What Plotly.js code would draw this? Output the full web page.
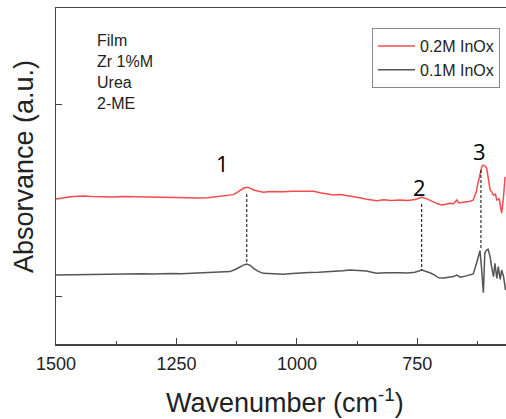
<!DOCTYPE html>
<html>
<head>
<meta charset="utf-8">
<script src="https://cdn.plot.ly/plotly-3.0.1.min.js"></script>
<style>html,body{margin:0;padding:0;background:#fff;}#chart{width:506px;height:419px;}</style>
</head>
<body>
<div id="chart"></div>
<script>
// Wavenumbers (cm^-1) and absorbance (a.u., offset)
const redX = [1500,1485,1470,1455,1443,1425,1400,1380,1360,1340,1320,1300,1280,1260,1240,1220,1201,1185,1166,1150,1132,1125,1118,1111,1104,1097,1090,1080,1070,1055,1040,1028,1010,995,980,965,952,938,924,910,895,883,870,855,845,834,820,805,786,770,755,741,730,717,708,699,690,682,675,670,668,664,661,650,640,634,628,624,620,616,613,609,606,602,599,595,592,588,585,580,575,571,568];
const redY = [0.505,0.512,0.517,0.520,0.521,0.518,0.515,0.516,0.518,0.517,0.514,0.513,0.511,0.513,0.509,0.508,0.510,0.512,0.517,0.520,0.528,0.538,0.552,0.561,0.566,0.562,0.552,0.544,0.540,0.544,0.542,0.543,0.546,0.545,0.547,0.545,0.538,0.532,0.526,0.528,0.522,0.521,0.512,0.504,0.499,0.496,0.501,0.497,0.500,0.498,0.503,0.514,0.506,0.491,0.480,0.474,0.478,0.483,0.481,0.492,0.500,0.485,0.486,0.489,0.494,0.500,0.540,0.590,0.641,0.675,0.682,0.676,0.665,0.610,0.552,0.540,0.526,0.530,0.500,0.505,0.432,0.520,0.620];

const grayX = [1500,1480,1460,1440,1420,1400,1380,1360,1340,1320,1300,1280,1260,1240,1220,1201,1180,1160,1139,1128,1118,1111,1104,1097,1090,1080,1070,1050,1028,1010,994,975,955,940,924,905,890,870,855,845,834,815,800,786,770,755,741,732,724,715,706,695,682,675,668,661,654,645,634,627,623,620,617,613,610,606,603,599,596,592,589,585,582,578,575,571,567];
const grayY = [0.109,0.110,0.112,0.111,0.113,0.115,0.114,0.114,0.115,0.116,0.115,0.117,0.117,0.116,0.118,0.118,0.119,0.121,0.127,0.138,0.153,0.161,0.167,0.160,0.144,0.128,0.118,0.114,0.113,0.117,0.121,0.122,0.124,0.126,0.127,0.132,0.136,0.133,0.130,0.124,0.118,0.121,0.119,0.121,0.120,0.124,0.135,0.128,0.121,0.110,0.095,0.094,0.097,0.102,0.109,0.098,0.101,0.108,0.115,0.172,0.210,0.236,0.153,0.017,0.224,0.240,0.243,0.205,0.153,0.101,0.170,0.092,0.153,0.087,0.135,0.101,0.031];

const seriesNames = ['0.2M InOx', '0.1M InOx'];
const sampleInfo = ['Film', 'Zr 1%M', 'Urea', '2-ME'];

// Peak markers: position, top and bottom of dashed guide, label position
const peakLabels = ['1', '2', '3'];
const peakX = [1104, 741, 618];
const peakTop = [0.531, 0.479, 0.656];
const peakBottom = [0.172, 0.135, 0.250];
const labelX = [1155, 745, 620];
const labelY = [0.693, 0.568, 0.755];

const xTicks = [1500, 1250, 1000, 750];
const xMinorTicks = [1375, 1125, 875, 625];

const FONT = 'Liberation Sans, Arial, sans-serif';

const traces = [
  {x: redX, y: redY, type: 'scatter', mode: 'lines', name: seriesNames[0],
   line: {color: '#f44b4b', width: 1.5}},
  {x: grayX, y: grayY, type: 'scatter', mode: 'lines', name: seriesNames[1],
   line: {color: '#555555', width: 1.5}}
];
peakX.forEach((px, i) => {
  traces.push({x: [px, px], y: [peakTop[i], peakBottom[i]], type: 'scatter', mode: 'lines',
    showlegend: false, hoverinfo: 'skip', line: {color: '#000', width: 1, dash: '3px,2px'}});
});

const annotations = [];
sampleInfo.forEach((t, i) => {
  annotations.push({text: t, xref: 'paper', yref: 'paper', x: (95 - 56) / 450, y: (344 - (40 + i * 21.3)) / 336,
    xanchor: 'left', yanchor: 'middle', showarrow: false,
    font: {family: FONT, size: 16, color: '#222'}});
});
peakLabels.forEach((t, i) => {
  annotations.push({text: t, x: labelX[i], y: labelY[i], xref: 'x', yref: 'y', showarrow: false,
    xanchor: 'center', yanchor: 'middle',
    font: {family: 'Open Sans, Liberation Sans, sans-serif', size: 22, color: '#000'}});
});
annotations.push({text: 'Absorvance (a.u.)', xref: 'paper', yref: 'paper', x: (24 - 56) / 450, y: (344 - 167) / 336,
  textangle: -90, showarrow: false, xanchor: 'center', yanchor: 'middle',
  font: {family: FONT, size: 27, color: '#222'}});
annotations.push({text: 'Wavenumber (cm<sup>-1</sup>)', xref: 'paper', yref: 'paper', x: (285 - 56) / 450, y: (344 - 401) / 336,
  showarrow: false, xanchor: 'center', yanchor: 'middle',
  font: {family: FONT, size: 27, color: '#222'}});

const layout = {
  width: 506, height: 419,
  margin: {l: 56, r: 0, t: 8, b: 75},
  paper_bgcolor: '#fff', plot_bgcolor: '#fff',
  showlegend: true,
  legend: {x: (372 - 56) / 450, y: (344 - 28) / 336, xanchor: 'left', yanchor: 'top',
    bordercolor: '#888', borderwidth: 1, bgcolor: '#fff',
    font: {family: FONT, size: 16, color: '#222'},
    tracegroupgap: 0, itemwidth: 37},
  xaxis: {range: [1500, 566], tickvals: xTicks, ticktext: xTicks.map(String),
    ticks: 'inside', ticklen: 6, tickwidth: 1, tickcolor: '#444', ticklabelstandoff: 3,
    minor: {tickvals: xMinorTicks, ticks: 'inside', ticklen: 3, tickcolor: '#444'},
    showline: true, linecolor: '#444', linewidth: 1.5, mirror: true, showgrid: false, zeroline: false,
    tickfont: {family: FONT, size: 18, color: '#222'}},
  yaxis: {range: [-0.25, 1.5], tickvals: [0, 1], showticklabels: false,
    ticks: 'inside', ticklen: 6, tickwidth: 1, tickcolor: '#444',
    showline: true, linecolor: '#444', linewidth: 1.5, showgrid: false, zeroline: false},
  annotations: annotations
};

Plotly.newPlot('chart', traces, layout, {displayModeBar: false, staticPlot: true});
</script>
</body>
</html>
